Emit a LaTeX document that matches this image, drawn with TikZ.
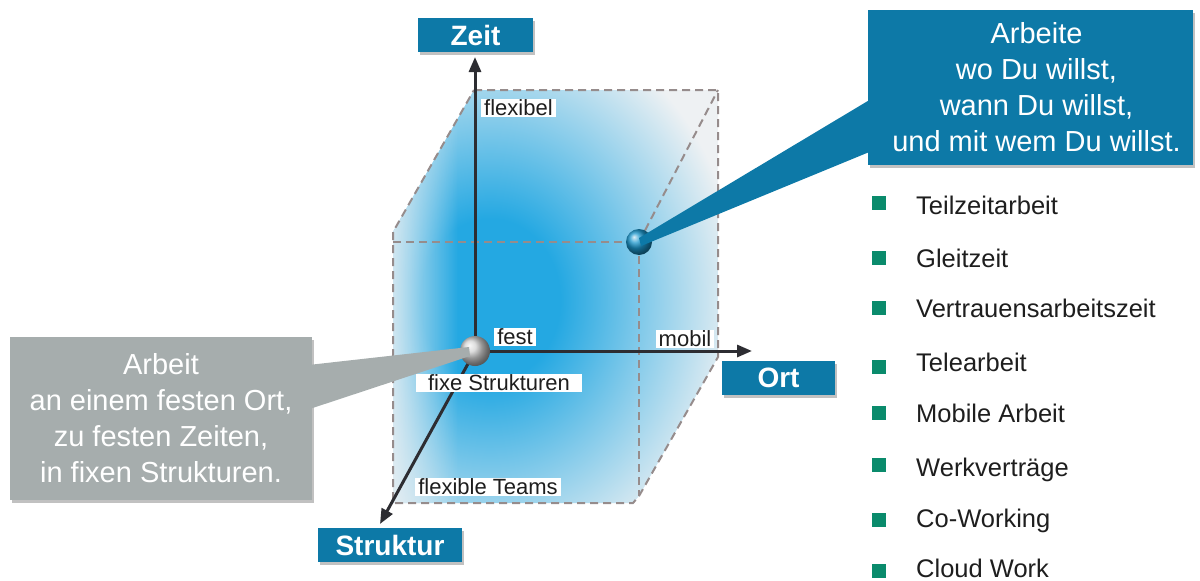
\documentclass[tikz,border=0pt]{standalone}
\usepackage{fontspec}
\setmainfont{Liberation Sans}
\usetikzlibrary{arrows.meta,shadows,fadings,calc}
\definecolor{axisblue}{RGB}{13,121,167}
\definecolor{calloutgray}{RGB}{166,173,173}
\definecolor{cubecyan}{RGB}{36,168,226}
\definecolor{cubepale}{RGB}{238,241,243}
\definecolor{edgegray}{RGB}{150,140,140}
\definecolor{bulletgreen}{RGB}{10,139,108}
\definecolor{axisdark}{RGB}{45,45,50}
\definecolor{inktext}{RGB}{30,30,30}
% soft cyan glow filling the cube (25bp = rim of the shaded path)
\pgfdeclareradialshading{cubeglow}{\pgfpoint{0bp}{0bp}}{%
  color(0bp)=(cubecyan); color(7bp)=(cubecyan);
  color(15bp)=(cubecyan!55!cubepale); color(25bp)=(cubepale); color(50bp)=(cubepale)}
\begin{document}
\begin{tikzpicture}[x=1pt,y=-1pt,
  boxshadow/.style={drop shadow={shadow xshift=1.5pt,shadow yshift=-2.5pt,opacity=0.35,fill=black!70}},
  axislabel/.style={fill=axisblue,text=white,font=\fontsize{28}{30}\selectfont\bfseries,
     minimum height=34pt,inner sep=0pt,boxshadow},
  cubeedge/.style={draw=edgegray,line width=2pt,dash pattern=on 8pt off 5pt},
  axisline/.style={draw=axisdark,line width=3pt,-{Triangle[length=15pt,width=12pt]}},
  axistag/.style={fill=white,text=inktext,font=\fontsize{22}{24}\selectfont,inner ysep=1pt,inner xsep=3pt},
  bulletsq/.style={fill=bulletgreen,minimum size=14pt,inner sep=0pt},
  listitem/.style={anchor=base west,text=inktext,font=\fontsize{25.5}{28}\selectfont,inner sep=0pt},
  calloutbox/.style={align=center,text=white,font=\fontsize{29}{36}\selectfont,inner sep=0pt,boxshadow}
]
\useasboundingbox (0,0) rectangle (1200,581);

% cube corners (back face, front face)
\coordinate (btl) at (474,90);
\coordinate (btr) at (718,90);
\coordinate (bbr) at (718,357);
\coordinate (ftl) at (393,242);
\coordinate (ftr) at (639,242);
\coordinate (fbr) at (639,496);
\coordinate (fbl) at (393,503);

% cube body
\begin{scope}
  \clip (btl) -- (btr) -- (bbr) -- (fbr) -- (633,503) -- (fbl) -- (393,232) -- cycle;
  \fill[cubepale] (380,80) rectangle (730,510);
  \shade[shading=cubeglow] (490,300) ellipse [x radius=250, y radius=290];
  \fill[cubepale, path fading=east, fill opacity=0.85] (390,80) rectangle (458,510);
\end{scope}

% dashed cube edges
\draw[cubeedge] (btl) -- (btr) -- (bbr) -- (fbr) -- (633,503) -- (fbl) -- (393,232) -- cycle;
\draw[cubeedge] (ftl) -- (ftr) -- (fbr);
\draw[cubeedge] (ftr) -- (btr);

% axes
\coordinate (O) at (475,351);
\coordinate (zeittip) at (475,57);
\coordinate (orttip) at (752,351);
\coordinate (strukturtip) at (380,524);
\draw[axisline] (O) -- (zeittip);
\draw[axisline] (O) -- (orttip);
\draw[axisline] (O) -- (strukturtip);

% axis titles
\node[axislabel,minimum width=115pt] (zeit) at (475.5,35) {Zeit};
\node[axislabel,minimum width=113pt] (ort) at (778.5,378) {Ort};
\node[axislabel,minimum width=144pt] (struktur) at (390,545) {Struktur};

% callout boxes
\node[calloutbox,fill=axisblue,minimum width=325pt,minimum height=155pt] (wish) at (1030.5,87.5)
  {\hspace*{12pt}Arbeite\\\hspace*{12pt}wo Du willst,\\\hspace*{12pt}wann Du willst,\\\hspace*{12pt}und mit wem Du willst.};
\node[calloutbox,fill=calloutgray,minimum width=302pt,minimum height=163pt] (fixed) at (161,418.5)
  {Arbeit\\an einem festen Ort,\\zu festen Zeiten,\\in fixen Strukturen.};

% spheres
\node[circle,minimum size=30pt,inner sep=0pt,ball color=gray!35] (origin) at (O) {};
\node[circle,minimum size=26pt,inner sep=0pt,ball color=cubecyan!65!axisblue] (goal) at (ftr) {};

% callout pointers
\fill[axisblue] ($(goal.center)+(0,-4)$) -- ($(wish.north west)+(2,90)$)
  -- ($(wish.north west)+(2,142)$) -- ($(goal.center)+(2,4)$) -- cycle;
\fill[calloutgray] ($(fixed.north east)+(-2,28)$) -- ($(origin.center)+(-6,-4)$)
  -- ($(origin.center)+(-5,5)$) -- ($(fixed.north east)+(-2,72)$) -- cycle;

% axis value tags
\node[axistag,anchor=west] (flexibel) at (481,108) {flexibel};
\node[axistag] (fest) at (515,337) {fest};
\node[axistag] (mobil) at (685,339) {mobil};
\node[axistag,inner xsep=12pt] (fixe) at (499,383) {fixe Strukturen};
\node[axistag] (teams) at (488,487) {flexible Teams};

% list of work models
\foreach \t/\by/\sy [count=\i] in {Teilzeitarbeit/214/203, Gleitzeit/267/258,
    Vertrauensarbeitszeit/317/308, Telearbeit/371/367, Mobile Arbeit/422/413,
    Werkverträge/476/465, Co-Working/527/520, Cloud Work/577/571}{
  \node[bulletsq] (b\i) at (879,\sy) {};
  \node[listitem] (li\i) at (916,\by) {\t};
}
\end{tikzpicture}
\end{document}
